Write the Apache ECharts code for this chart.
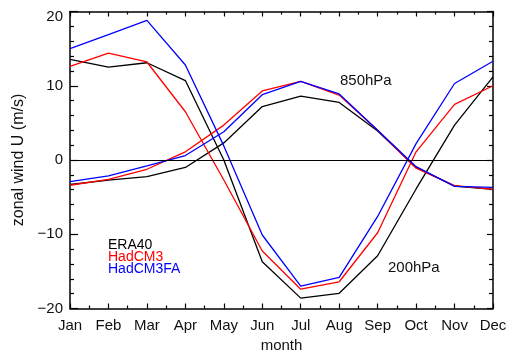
<!DOCTYPE html>
<html>
<head>
<meta charset="utf-8">
<script src="https://cdn.jsdelivr.net/npm/echarts@6/dist/echarts.min.js"></script>
<style>html,body{margin:0;padding:0;background:#fff;}#c{width:507px;height:352px;}</style>
</head>
<body>
<div id="c"></div>
<script>
var months = ['Jan','Feb','Mar','Apr','May','Jun','Jul','Aug','Sep','Oct','Nov','Dec'];
var era40_850    = [-3.3, -2.7, -2.25, -1.0, 2.3, 7.2, 8.6, 7.75, 3.9, -1.0, -3.5, -3.95];
var hadcm3_850   = [-3.4, -2.6, -1.25, 1.1, 4.7, 9.3, 10.6, 8.75, 4.0, -1.1, -3.45, -3.95];
var hadcm3fa_850 = [-2.9, -2.15, -0.8, 0.6, 3.8, 8.8, 10.6, 8.9, 4.0, -0.9, -3.55, -3.7];
var era40_200    = [13.55, 12.5, 13.1, 10.7, 0.0, -13.7, -18.6, -17.95, -12.9, -3.9, 4.7, 11.2];
var hadcm3_200   = [12.6, 14.4, 13.2, 6.5, -2.7, -12.25, -17.4, -16.4, -9.8, 1.1, 7.5, 10.0];
var hadcm3fa_200 = [15.0, 16.9, 18.8, 12.8, 1.9, -10.1, -17.0, -15.8, -7.6, 2.2, 10.3, 13.3];
var legendNames = ['ERA40', 'HadCM3', 'HadCM3FA'];
var levelNames = ['850hPa', '200hPa'];
var colors = ['#000000', '#ff0000', '#0000ff'];

var FONT = 'Liberation Sans';
function pairs(arr){ return arr.map(function(v,i){ return [i, v]; }); }

function mkSeries(name, arr, color, z){
  return { name: name, type: 'line', data: pairs(arr), symbol: 'none', z: z,
    lineStyle: { color: color, width: 1.3 }, itemStyle: { color: color }, animation: false };
}

var series = [
  { type: 'line', data: [], z: 1, animation: false,
    markLine: { silent: true, symbol: ['none','none'], label: { show: false },
      lineStyle: { color: '#000', width: 1, type: 'solid' }, data: [{ yAxis: 0 }] } },
  mkSeries('ERA40 850', era40_850, colors[0], 2),
  mkSeries('ERA40 200', era40_200, colors[0], 2),
  mkSeries('HadCM3 850', hadcm3_850, colors[1], 3),
  mkSeries('HadCM3 200', hadcm3_200, colors[1], 3),
  mkSeries('HadCM3FA 850', hadcm3fa_850, colors[2], 4),
  mkSeries('HadCM3FA 200', hadcm3fa_200, colors[2], 4)
];

var axisLineStyle = { show: true, onZero: false, lineStyle: { color: '#000', width: 1.5 } };
function xAx(pos, labels){
  return { type: 'value', position: pos, min: 0, max: 11, interval: 1,
    axisLine: axisLineStyle,
    axisTick: { show: true, inside: true, length: 5, lineStyle: { color: '#000', width: 1.2 } },
    minorTick: { show: true, splitNumber: 2, length: 3, lineStyle: { color: '#000', width: 1.2 } },
    splitLine: { show: false },
    axisLabel: { show: labels, margin: 10, color: '#111', fontFamily: FONT, fontSize: 15,
      formatter: function(v){ return months[Math.round(v)] || ''; } },
    name: labels ? 'month' : '', nameLocation: 'middle', nameGap: 28,
    nameTextStyle: { color: '#111', fontFamily: FONT, fontSize: 15 }
  };
}
function yAx(pos, labels){
  return { type: 'value', position: pos, min: -20, max: 20, interval: 10,
    axisLine: axisLineStyle,
    axisTick: { show: true, inside: true, length: labels ? 8 : 6, lineStyle: { color: '#000', width: 1.2 } },
    minorTick: { show: true, splitNumber: 5, length: 4, lineStyle: { color: '#000', width: 1.2 } },
    splitLine: { show: false },
    axisLabel: { show: labels, margin: 7, color: '#111', fontFamily: FONT, fontSize: 15,
      formatter: function(v){
        if (v === 20) return '{top|20}';
        return v < 0 ? '\u2212' + Math.abs(v) : String(v);
      },
      rich: { top: { fontFamily: FONT, fontSize: 15, color: '#111', padding: [11, 0, 0, 0] } } },
    name: labels ? 'zonal wind U (m/s)' : '', nameLocation: 'middle', nameGap: 43, nameRotate: 90,
    nameTextStyle: { color: '#111', fontFamily: FONT, fontSize: 16 }
  };
}

var chart = echarts.init(document.getElementById('c'), null, { renderer: 'canvas' });
chart.setOption({
  animation: false,
  backgroundColor: '#fff',
  grid: { left: 70, right: 14, top: 11.5, bottom: 43.5, containLabel: false, outerBoundsMode: 'none' },
  xAxis: [xAx('bottom', true), xAx('top', false)],
  yAxis: [yAx('left', true), yAx('right', false)],
  series: series,
  graphic: [
    { type: 'text', left: 108, top: 238, style: { text: legendNames[0], fill: colors[0], font: '14px "' + FONT + '"' } },
    { type: 'text', left: 108, top: 250, style: { text: legendNames[1], fill: colors[1], font: '14px "' + FONT + '"' } },
    { type: 'text', left: 108, top: 262, style: { text: legendNames[2], fill: colors[2], font: '14px "' + FONT + '"' } },
    { type: 'text', left: 340, top: 73, style: { text: levelNames[0], fill: '#111', font: '15px "' + FONT + '"' } },
    { type: 'text', left: 388, top: 260, style: { text: levelNames[1], fill: '#111', font: '15px "' + FONT + '"' } }
  ]
});
</script>
</body>
</html>
